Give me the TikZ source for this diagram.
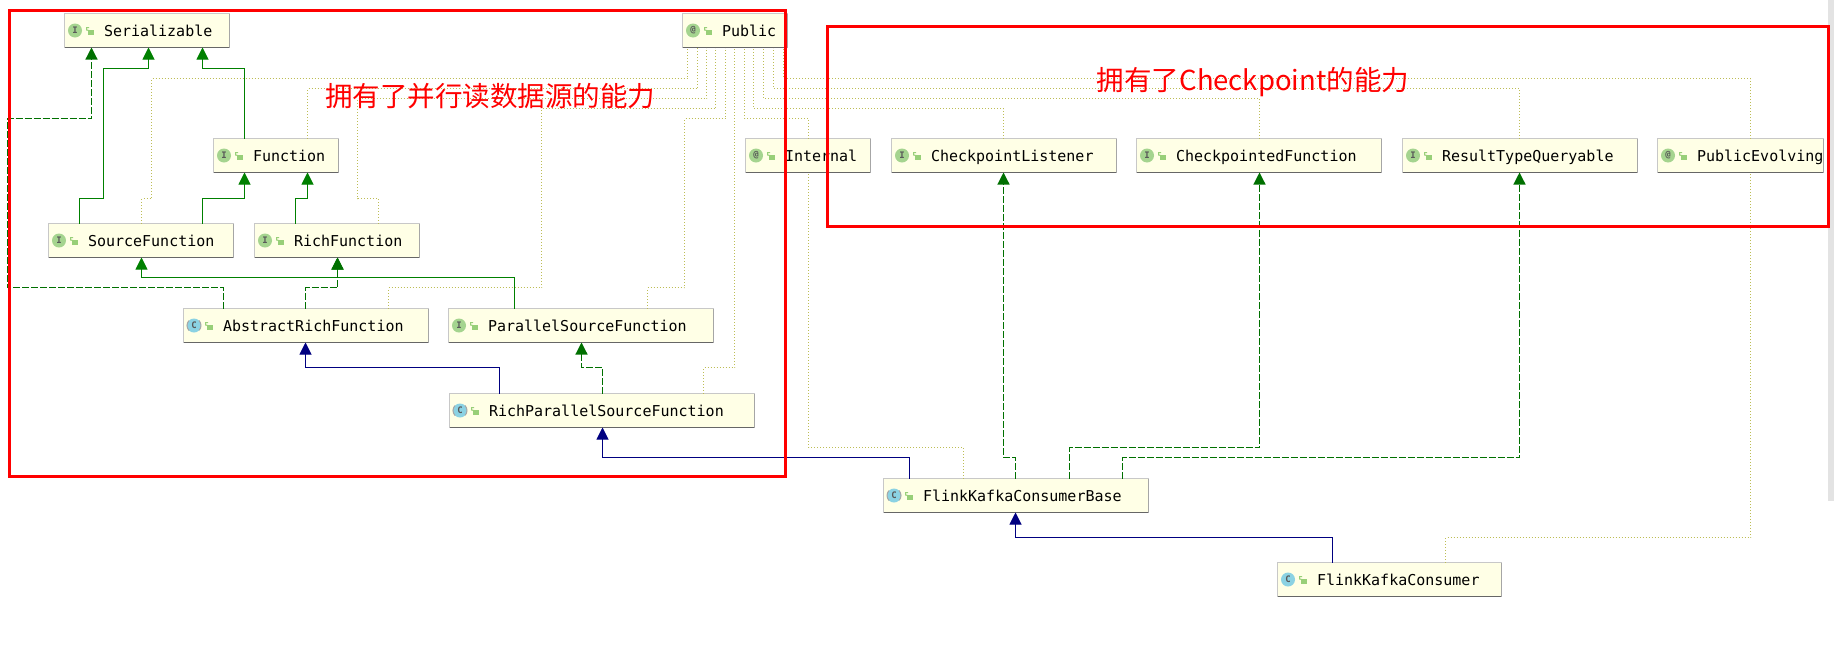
\documentclass[tikz,border=0pt]{standalone}
\usepackage{fontspec}
\setmonofont{DejaVu Sans Mono}
\newfontfamily\cjk{Noto Sans CJK SC}
\usetikzlibrary{arrows.meta}
\definecolor{boxfill}{HTML}{FFFFE6}
\definecolor{boxedge}{HTML}{C8C8C8}
\definecolor{ifacegreen}{HTML}{A5D48F}
\definecolor{classblue}{HTML}{8BD2E3}
\definecolor{lockgreen}{HTML}{98CF78}
\definecolor{dotolive}{HTML}{BDBD55}
\definecolor{implgreen}{HTML}{007000}
\definecolor{extgreen}{HTML}{008000}
\definecolor{extnavy}{HTML}{000080}
\tikzset{
	umlbox/.style={draw=boxedge,fill=boxfill,line width=1pt,minimum height=34pt,inner sep=0pt,outer sep=0pt,anchor=north west},
	umltext/.style={font=\fontsize{15}{15}\ttfamily,text=black,inner sep=0pt,outer sep=0pt,anchor=base west},
	icon/.style={circle,minimum size=14pt,inner sep=0pt,outer sep=0pt,font=\fontsize{9}{9}\ttfamily\bfseries,text=black!65},
	ifaceicon/.style={icon,fill=ifacegreen},
	classicon/.style={icon,fill=classblue},
	absicon/.style={icon,fill=classblue,draw=black!35,line width=1pt,dash pattern=on 11pt off 11pt,dash phase=5.5pt},
	lockicon/.pic={
		\fill[lockgreen] (2,3.5) rectangle (8,8);
		\draw[lockgreen,line width=1pt] (3,4) -- (0.5,3.5) -- (0.5,1) -- (3,1);
	},
	ext/.style={draw=extgreen,line width=1pt,->},
	impl/.style={draw=implgreen,line width=1.2pt,dash pattern=on 7pt off 2pt,->},
	sup/.style={draw=extnavy,line width=1pt,->},
	note/.style={draw=dotolive,line width=1.2pt,dash pattern=on 1pt off 2pt},
	redframe/.style={draw=red,line width=3pt,line join=miter},
	redtext/.style={font=\cjk\fontsize{27.5}{27.5}\selectfont,text=red,inner sep=0pt}
}
% name, x, y, width, icon style, icon letter, text
\newcommand{\umlclass}[7]{
	\node[umlbox,minimum width=#4pt] (#1) at (#2.5,#3.5) {};
	\draw[black!60] (#1.south west) -- (#1.south east);
	\draw[black!35] (#1.south east) -- (#1.north east);
	\node[#5] (#1-icon) at ([shift={(10.5pt,17pt)}]#1.south west) {#6};
	\pic at ([shift={(21.5pt,-13pt)}]#1.north west) {lockicon};
	\node[umltext] (#1-label) at ([shift={(39.5pt,11pt)}]#1.south west) {#7};
}
\begin{document}
\begin{tikzpicture}[x=1pt,y=-1pt,>={Triangle[width=12pt,length=12pt]}]
	\useasboundingbox[fill=white] (0,0) rectangle (1834,654);
	\fill[black!11] (1828,0) rectangle (1834,501);
	\umlclass{serial}{64}{13}{165}{ifaceicon}{I}{Serializable}
	\umlclass{public}{682}{13}{105}{ifaceicon}{@}{Public}
	\umlclass{fn}{213}{138}{125}{ifaceicon}{I}{Function}
	\umlclass{sourcefn}{48}{223}{185}{ifaceicon}{I}{SourceFunction}
	\umlclass{richfn}{254}{223}{165}{ifaceicon}{I}{RichFunction}
	\umlclass{abstractrich}{183}{308}{245}{absicon}{C}{AbstractRichFunction}
	\umlclass{parallel}{448}{308}{265}{ifaceicon}{I}{ParallelSourceFunction}
	\umlclass{richparallel}{449}{393}{305}{absicon}{C}{RichParallelSourceFunction}
	\umlclass{internal}{745}{138}{125}{ifaceicon}{@}{Internal}
	\umlclass{listener}{891}{138}{225}{ifaceicon}{I}{CheckpointListener}
	\umlclass{checkpointed}{1136}{138}{245}{ifaceicon}{I}{CheckpointedFunction}
	\umlclass{queryable}{1402}{138}{235}{ifaceicon}{I}{ResultTypeQueryable}
	\umlclass{evolving}{1657}{138}{166}{ifaceicon}{@}{PublicEvolving}
	\umlclass{base}{883}{478}{265}{absicon}{C}{FlinkKafkaConsumerBase}
	\umlclass{consumer}{1277}{562}{224}{classicon}{C}{FlinkKafkaConsumer}
	% dotted annotation links
	\draw[note] ([xshift=93pt]sourcefn.north west) |- (151.5,198.5) -- (151.5,78.5) -| ([xshift=5pt]public.south west);
	\draw[note] ([xshift=94pt]fn.north west) |- (697.5,88.5) -- ([xshift=15pt]public.south west);
	\draw[note] ([xshift=124pt]richfn.north west) |- (357.5,198.5) -- (357.5,98.5) -| ([xshift=24pt]public.south west);
	\draw[note] ([xshift=205pt]abstractrich.north west) |- (541.5,287.5) -- (541.5,108.5) -| ([xshift=33pt]public.south west);
	\draw[note] ([xshift=199pt]parallel.north west) |- (684.5,287.5) -- (684.5,118.5) -| ([xshift=43pt]public.south west);
	\draw[note] ([xshift=254pt]richparallel.north west) |- (734.5,367.5) -- ([xshift=52pt]public.south west);
	\draw[note] ([xshift=63pt]internal.north west) |- (744.5,118.5) -- ([xshift=62pt]public.south west);
	\draw[note] ([xshift=112pt]listener.north west) |- (753.5,108.5) -- ([xshift=71pt]public.south west);
	\draw[note] ([xshift=123pt]checkpointed.north west) |- (763.5,98.5) -- ([xshift=81pt]public.south west);
	\draw[note] ([xshift=117pt]queryable.north west) |- (773.5,88.5) -- ([xshift=91pt]public.south west);
	\draw[note] ([xshift=93pt]evolving.north west) |- (783.5,78.5) -- ([xshift=101pt]public.south west);
	\draw[note] ([xshift=80pt]base.north west) |- (808.5,447.5) -- ([xshift=63pt]internal.south west);
	\draw[note] ([xshift=168pt]consumer.north west) |- (1750.5,537.5) -- ([xshift=93pt]evolving.south west);
	% interface inheritance
	\draw[ext] ([xshift=31pt]sourcefn.north west) |- (103.5,198.5) -- (103.5,68.5) -| ([xshift=84pt]serial.south west);
	\draw[ext] ([xshift=31pt]fn.north west) |- (202.5,68.5) -- ([xshift=138pt]serial.south west);
	\draw[ext] ([xshift=154pt]sourcefn.north west) |- (244.5,198.5) -- ([xshift=31pt]fn.south west);
	\draw[ext] ([xshift=41pt]richfn.north west) |- (307.5,198.5) -- ([xshift=94pt]fn.south west);
	\draw[ext] ([xshift=66pt]parallel.north west) |- (141.5,277.5) -- ([xshift=93pt]sourcefn.south west);
	\draw[ext] ([xshift=66pt]parallel.north west) |- (337.5,277.5) -- ([xshift=83pt]richfn.south west);
	% implemented interfaces
	\draw[impl] ([xshift=40pt]abstractrich.north west) |- (7.5,287.5) -- (7.5,118.5) -| ([xshift=27pt]serial.south west);
	\draw[impl] ([xshift=122pt]abstractrich.north west) |- (337.5,287.5) -- ([xshift=83pt]richfn.south west);
	\draw[impl] ([xshift=153pt]richparallel.north west) |- (581.5,367.5) -- ([xshift=133pt]parallel.south west);
	\draw[impl] ([xshift=132pt]base.north west) |- (1003.5,457.5) -- ([xshift=112pt]listener.south west);
	\draw[impl] ([xshift=186pt]base.north west) |- (1259.5,447.5) -- ([xshift=123pt]checkpointed.south west);
	\draw[impl] ([xshift=239pt]base.north west) |- (1519.5,457.5) -- ([xshift=117pt]queryable.south west);
	% superclasses
	\draw[sup] ([xshift=50pt]richparallel.north west) |- (305.5,367.5) -- ([xshift=122pt]abstractrich.south west);
	\draw[sup] ([xshift=26pt]base.north west) |- (602.5,457.5) -- ([xshift=153pt]richparallel.south west);
	\draw[sup] ([xshift=55pt]consumer.north west) |- (1015.5,537.5) -- ([xshift=132pt]base.south west);
	% hand drawn marks
	\node[redtext] (parallelnote) at (490,96) {拥有了并行读数据源的能力};
	\node[redtext] (checkpointnote) at (1253,82) {拥有了Checkpoint的能力};
	\draw[redframe] (9.5,10) rectangle (785,476);
	\draw[redframe] (827,26) rectangle (1828,226);
\end{tikzpicture}
\end{document}
